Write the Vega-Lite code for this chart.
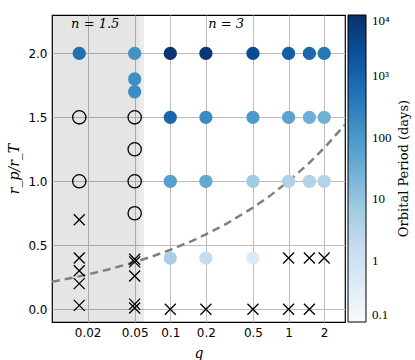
{
  "$schema": "https://vega.github.io/schema/vega-lite/v6.json",
  "width": 293,
  "height": 307,
  "autosize": {"type": "none"},
  "padding": {"left": 52, "top": 15, "right": 70, "bottom": 38},
  "background": "white",
  "config": {
    "view": {"stroke": "black", "strokeWidth": 1.2},
    "axis": {
      "domain": false,
      "ticks": false,
      "grid": true,
      "gridColor": "#bdbdbd",
      "gridWidth": 1,
      "labelFont": "DejaVu Sans",
      "labelFontSize": 12,
      "labelColor": "black",
      "labelPadding": 5,
      "titleFont": "DejaVu Serif",
      "titleFontStyle": "italic",
      "titleFontWeight": "normal",
      "titleFontSize": 14,
      "titleColor": "black"
    }
  },
  "resolve": {"scale": {"y": "independent"}},
  "datasets": {
    "pts": [
      {"q": 0.017, "y": 2.0, "kind": "filled", "period": 600},
      {"q": 0.017, "y": 1.5, "kind": "open"},
      {"q": 0.017, "y": 1.0, "kind": "open"},
      {"q": 0.017, "y": 0.7, "kind": "cross"},
      {"q": 0.017, "y": 0.4, "kind": "cross"},
      {"q": 0.017, "y": 0.3, "kind": "cross"},
      {"q": 0.017, "y": 0.2, "kind": "cross"},
      {"q": 0.017, "y": 0.03, "kind": "cross"},
      {"q": 0.05, "y": 2.0, "kind": "filled", "period": 130},
      {"q": 0.05, "y": 1.8, "kind": "filled", "period": 150},
      {"q": 0.05, "y": 1.7, "kind": "filled", "period": 170},
      {"q": 0.05, "y": 1.5, "kind": "open"},
      {"q": 0.05, "y": 1.25, "kind": "open"},
      {"q": 0.05, "y": 1.0, "kind": "open"},
      {"q": 0.05, "y": 0.75, "kind": "open"},
      {"q": 0.05, "y": 0.39, "kind": "cross"},
      {"q": 0.05, "y": 0.37, "kind": "cross"},
      {"q": 0.05, "y": 0.26, "kind": "cross"},
      {"q": 0.05, "y": 0.04, "kind": "cross"},
      {"q": 0.05, "y": 0.01, "kind": "cross"},
      {"q": 0.1, "y": 2.0, "kind": "filled", "period": 8000},
      {"q": 0.1, "y": 1.5, "kind": "filled", "period": 900},
      {"q": 0.1, "y": 1.0, "kind": "filled", "period": 70},
      {"q": 0.1, "y": 0.4, "kind": "filled", "period": 5},
      {"q": 0.1, "y": 0.0, "kind": "cross"},
      {"q": 0.2, "y": 2.0, "kind": "filled", "period": 7000},
      {"q": 0.2, "y": 1.5, "kind": "filled", "period": 180},
      {"q": 0.2, "y": 1.0, "kind": "filled", "period": 40},
      {"q": 0.2, "y": 0.4, "kind": "filled", "period": 1.8},
      {"q": 0.2, "y": 0.0, "kind": "cross"},
      {"q": 0.5, "y": 2.0, "kind": "filled", "period": 3000},
      {"q": 0.5, "y": 1.5, "kind": "filled", "period": 90},
      {"q": 0.5, "y": 1.0, "kind": "filled", "period": 7},
      {"q": 0.5, "y": 0.4, "kind": "filled", "period": 0.5},
      {"q": 0.5, "y": 0.0, "kind": "cross"},
      {"q": 1.0, "y": 2.0, "kind": "filled", "period": 1300},
      {"q": 1.0, "y": 1.5, "kind": "filled", "period": 55},
      {"q": 1.0, "y": 1.0, "kind": "filled", "period": 4},
      {"q": 1.0, "y": 0.4, "kind": "cross"},
      {"q": 1.0, "y": 0.0, "kind": "cross"},
      {"q": 1.5, "y": 2.0, "kind": "filled", "period": 800},
      {"q": 1.5, "y": 1.5, "kind": "filled", "period": 30},
      {"q": 1.5, "y": 1.0, "kind": "filled", "period": 3.5},
      {"q": 1.5, "y": 0.4, "kind": "cross"},
      {"q": 1.5, "y": 0.0, "kind": "cross"},
      {"q": 2.0, "y": 2.0, "kind": "filled", "period": 450},
      {"q": 2.0, "y": 1.5, "kind": "filled", "period": 28},
      {"q": 2.0, "y": 1.0, "kind": "filled", "period": 3.5},
      {"q": 2.0, "y": 0.4, "kind": "cross"}
    ],
    "curve": [
      {"q": 0.01, "y": 0.215},
      {"q": 0.015, "y": 0.247},
      {"q": 0.02, "y": 0.271},
      {"q": 0.03, "y": 0.311},
      {"q": 0.05, "y": 0.368},
      {"q": 0.07, "y": 0.412},
      {"q": 0.1, "y": 0.464},
      {"q": 0.15, "y": 0.531},
      {"q": 0.2, "y": 0.585},
      {"q": 0.3, "y": 0.669},
      {"q": 0.5, "y": 0.794},
      {"q": 0.7, "y": 0.888},
      {"q": 1.0, "y": 1.0},
      {"q": 1.5, "y": 1.145},
      {"q": 2.0, "y": 1.26},
      {"q": 3.0, "y": 1.442}
    ],
    "labels": [
      {"q": 0.0232, "y": 2.23, "label": "n = 1.5"},
      {"q": 0.297, "y": 2.23, "label": "n = 3"}
    ]
  },
  "layer": [
    {
      "layer": [
        {
          "data": {"values": [{"q": 0.01, "q2": 0.055}]},
          "mark": {"type": "rect", "color": "black", "opacity": 0.1},
          "encoding": {
            "x": {
              "field": "q", "type": "quantitative", "title": "q",
              "scale": {"type": "log", "domain": [0.01, 3], "nice": false},
              "axis": {"values": [0.02, 0.05, 0.1, 0.2, 0.5, 1, 2], "format": "~g", "titlePadding": 8}
            },
            "x2": {"field": "q2"}
          }
        },
        {
          "data": {"values": [{"q": 0.055, "q2": 0.06}]},
          "mark": {"type": "rect", "color": "black", "opacity": 0.075},
          "encoding": {
            "x": {"field": "q", "type": "quantitative", "title": "q"},
            "x2": {"field": "q2"}
          }
        },
        {
          "data": {"name": "curve"},
          "mark": {"type": "line", "color": "#808080", "strokeWidth": 2.5, "strokeDash": [8, 5], "clip": true},
          "encoding": {
            "x": {"field": "q", "type": "quantitative", "title": "q"},
            "y": {
              "field": "y", "type": "quantitative", "title": "r_p/r_T",
              "scale": {"domain": [-0.1, 2.3], "nice": false, "zero": false},
              "axis": {"values": [0, 0.5, 1, 1.5, 2], "format": ".1f", "titlePadding": 6}
            }
          }
        },
        {
          "data": {"name": "pts"},
          "transform": [{"filter": "datum.kind === 'filled'"}],
          "mark": {"type": "circle", "size": 177, "opacity": 1},
          "encoding": {
            "x": {"field": "q", "type": "quantitative", "title": "q"},
            "y": {"field": "y", "type": "quantitative", "title": "r_p/r_T"},
            "color": {
              "field": "period", "type": "quantitative",
              "scale": {
                "type": "log",
                "domain": [0.1, 0.4217, 1.778, 7.499, 31.62, 133.4, 562.3, 2371, 10000],
                "range": ["#f7fbff", "#deebf7", "#c6dbef", "#9ecae1", "#6baed6", "#4292c6", "#2171b5", "#08519c", "#08306b"]
              },
              "legend": {
                "title": null,
                "orient": "none",
                "legendX": 296,
                "legendY": 0,
                "padding": 0,
                "gradientLength": 307,
                "gradientThickness": 18,
                "gradientStrokeColor": "black",
                "gradientStrokeWidth": 1,
                "values": [0.1, 1, 10, 100, 1000, 10000],
                "labelExpr": "datum.value >= 10000 ? '10⁴' : datum.value >= 1000 ? '10³' : datum.value >= 100 ? '100' : datum.value >= 10 ? '10' : datum.value >= 1 ? '1' : '0.1'",
                "labelFont": "Liberation Serif",
                "labelFontSize": 13,
                "labelColor": "black",
                "labelOffset": 6
              }
            }
          }
        },
        {
          "data": {"name": "pts"},
          "transform": [{"filter": "datum.kind === 'open'"}],
          "mark": {"type": "point", "shape": "circle", "filled": false, "size": 177, "stroke": "black", "strokeWidth": 1.3, "opacity": 1},
          "encoding": {
            "x": {"field": "q", "type": "quantitative", "title": "q"},
            "y": {"field": "y", "type": "quantitative", "title": "r_p/r_T"}
          }
        },
        {
          "data": {"name": "pts"},
          "transform": [{"filter": "datum.kind === 'cross'"}],
          "mark": {"type": "point", "shape": "M-1,-1L1,1M-1,1L1,-1", "filled": false, "size": 121, "stroke": "black", "strokeWidth": 1.3, "opacity": 1},
          "encoding": {
            "x": {"field": "q", "type": "quantitative", "title": "q"},
            "y": {"field": "y", "type": "quantitative", "title": "r_p/r_T"}
          }
        },
        {
          "data": {"name": "labels"},
          "mark": {"type": "text", "font": "DejaVu Serif", "fontStyle": "italic", "fontSize": 13, "color": "black", "baseline": "middle"},
          "encoding": {
            "x": {"field": "q", "type": "quantitative", "title": "q"},
            "y": {"field": "y", "type": "quantitative", "title": "r_p/r_T"},
            "text": {"field": "label"}
          }
        }
      ]
    },
    {
      "data": {"name": "curve"},
      "mark": {"type": "point", "opacity": 0},
      "encoding": {
        "x": {"field": "q", "type": "quantitative", "title": "q"},
        "y": {
          "field": "y", "type": "quantitative",
          "scale": {"domain": [-0.1, 2.3], "nice": false, "zero": false},
          "axis": {
            "orient": "right",
            "title": "Orbital Period (days)",
            "labels": false,
            "ticks": false,
            "domain": false,
            "grid": false,
            "titleAngle": 270,
            "titleBaseline": "middle",
            "titleAlign": "center",
            "titleX": 58,
            "titleY": 153,
            "titleFont": "DejaVu Serif",
            "titleFontStyle": "normal",
            "titleFontSize": 13,
            "titleFontWeight": "normal",
            "titleColor": "black"
          }
        }
      }
    }
  ]
}
